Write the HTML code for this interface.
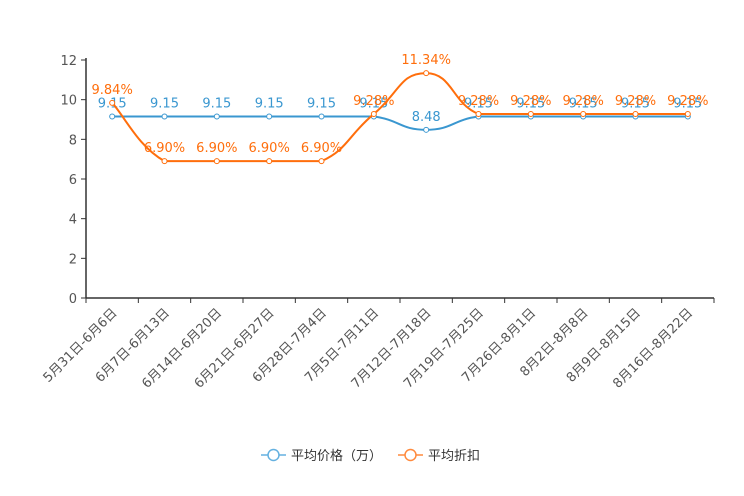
<!DOCTYPE html>
<html><head><meta charset="utf-8">
<style>
html,body{margin:0;padding:0;background:#fff;}
svg{display:block;font-family:"DejaVu Sans","Liberation Sans","Noto Sans CJK SC",sans-serif;}
</style></head>
<body>
<svg id="chart" width="744" height="496"></svg>
<script>
const categories=["5月31日-6月6日","6月7日-6月13日","6月14日-6月20日","6月21日-6月27日","6月28日-7月4日","7月5日-7月11日","7月12日-7月18日","7月19日-7月25日","7月26日-8月1日","8月2日-8月8日","8月9日-8月15日","8月16日-8月22日"];
const priceValues=[9.15,9.15,9.15,9.15,9.15,9.15,8.48,9.15,9.15,9.15,9.15,9.15];
const discountValues=[9.84,6.90,6.90,6.90,6.90,9.28,11.34,9.28,9.28,9.28,9.28,9.28];
const yTicks=[0,2,4,6,8,10,12];

const NS="http://www.w3.org/2000/svg";
const svg=document.getElementById('chart');
const X0=86,X1=714,Y0=298,Y1=60,YMAX=12;
const bw=(X1-X0)/categories.length;
const xs=i=>X0+bw*(i+0.5);
const ys=v=>Y0-(v/YMAX)*(Y0-Y1);
function mk(t,a,p){const e=document.createElementNS(NS,t);for(const k in a)e.setAttribute(k,a[k]);(p||svg).appendChild(e);return e;}

// y axis
const yAxis=mk('g',{});


mk('line',{x1:X0,y1:Y1-2,x2:X0,y2:Y0,stroke:'#333','stroke-width':1.5},yAxis);
yTicks.forEach(v=>{
  mk('line',{x1:X0-5,y1:ys(v),x2:X0,y2:ys(v),stroke:'#333'},yAxis);
  const t=mk('text',{x:X0-9,y:ys(v)+5,'text-anchor':'end','font-size':13,fill:'#555'},yAxis);
  t.textContent=v;
  
  
});
// x axis
const xAxis=mk('g',{});


mk('line',{x1:X0,y1:Y0,x2:X1,y2:Y0,stroke:'#333','stroke-width':1.5},xAxis);
for(let i=0;i<=categories.length;i++){mk('line',{x1:X0+bw*i,y1:Y0,x2:X0+bw*i,y2:Y0+5,stroke:'#333'},xAxis);}
categories.forEach((c,i)=>{
  const x=xs(i),y=Y0+10;
  const t=mk('text',{x:x,y:y,'text-anchor':'end','font-size':13,fill:'#555',transform:`rotate(-45 ${x} ${y})`,dy:'0.6em'},xAxis);
  t.textContent=c;
  
  
});

function smoothPath(vals){
  const p=vals.map((v,i)=>[xs(i),ys(v)]);
  let d=`M${p[0][0]},${p[0][1]}`;
  const s=0.25;
  for(let i=0;i<p.length-1;i++){
    const a=p[i-1]||p[i],b=p[i],c=p[i+1],e=p[i+2]||c;
    const c1=[b[0]+(c[0]-a[0])*s,b[1]+(c[1]-a[1])*s];
    const c2=[c[0]-(e[0]-b[0])*s,c[1]-(e[1]-b[1])*s];
    // clamp for flat segments
    if(b[1]===c[1]){c1[1]=b[1];c2[1]=c[1];}
    d+=` C${c1[0]},${c1[1]} ${c2[0]},${c2[1]} ${c[0]},${c[1]}`;
  }
  return d;
}
function series(vals,color,name,fmt){
  const g=mk('g',{});
  
  
  const path=mk('path',{d:smoothPath(vals),fill:'none',stroke:color,'stroke-width':2},g);
  
  
  vals.forEach((v,i)=>{
    const c=mk('circle',{cx:xs(i),cy:ys(v),r:2.5,fill:'#fff',stroke:color,'stroke-width':1},g);
    
    
    const t=mk('text',{x:xs(i),y:ys(v)-9,'text-anchor':'middle','font-size':13,fill:color},g);
    t.textContent=fmt(v);
    
    
  });
}
series(priceValues,'#3a97d0','price',v=>v.toFixed(2));
series(discountValues,'#ff6e0c','discount',v=>v.toFixed(2)+'%');

// legend
const lg=mk('g',{});


function legendItem(x,color,label,name){
  const g=mk('g',{},lg);
  
  
  mk('line',{x1:x,y1:455,x2:x+25,y2:455,stroke:color,'stroke-width':1.5},g);
  mk('circle',{cx:x+12.5,cy:455,r:5.5,fill:'#fff',stroke:color,'stroke-width':1.5},g);
  const t=mk('text',{x:x+30,y:460,'font-size':13,fill:'#333','font-family':'"Liberation Sans","Noto Sans CJK SC",sans-serif'},g);
  t.textContent=label;
}
legendItem(261,'#65b1e0','平均价格（万）','legend-price');
legendItem(398,'#ff8a3d','平均折扣','legend-discount');
</script>
</body></html>
